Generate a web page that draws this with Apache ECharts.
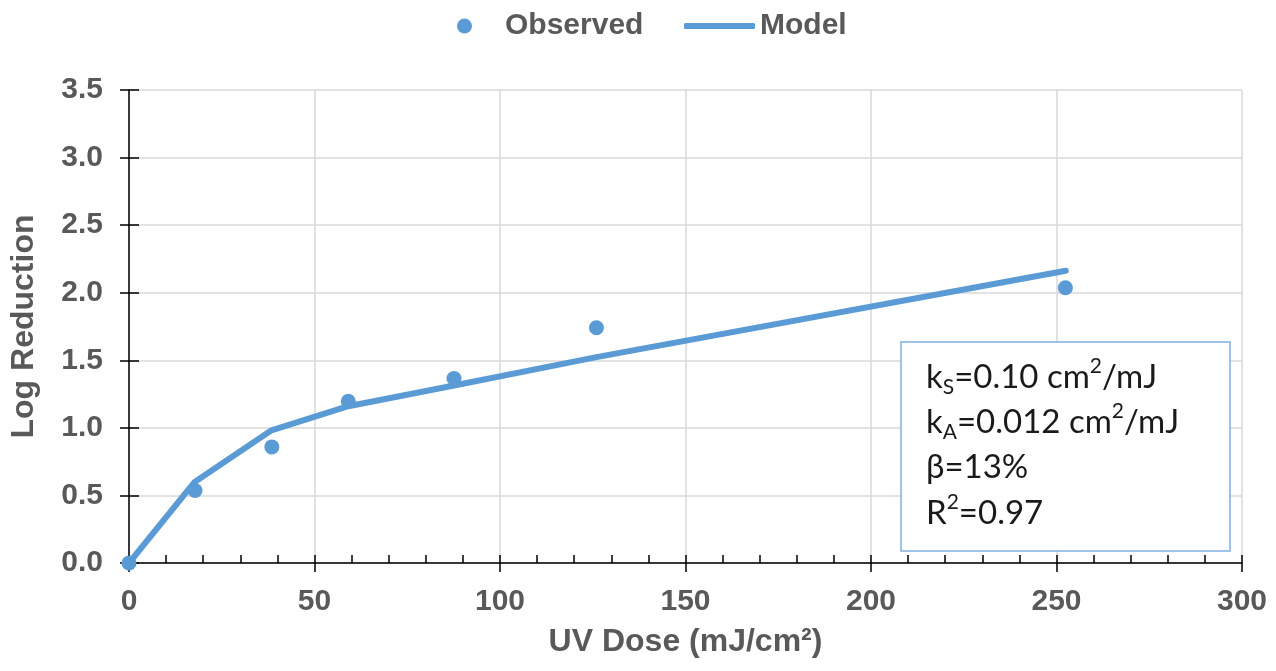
<!DOCTYPE html>
<html>
<head>
<meta charset="utf-8">
<script src="https://cdn.jsdelivr.net/npm/echarts@6/dist/echarts.min.js"></script>
<style>html,body{margin:0;padding:0;background:#fff}#c{width:1276px;height:671px}</style>
</head>
<body>
<div id="c"></div>
<script>
// ---- data ----
const observedDose = [0, 17.8, 38.5, 59.1, 87.6, 126.0, 252.4];
const observedLR   = [0.0, 0.536, 0.859, 1.197, 1.365, 1.741, 2.037];
const modelDose    = [0, 17.6, 38.4, 59.1, 87.6, 126.0, 252.5];
const modelLR      = [0.0, 0.597, 0.982, 1.160, 1.313, 1.523, 2.163];
const seriesNames  = ['Observed', 'Model'];
const xTitle = 'UV Dose (mJ/cm²)';
const yTitle = 'Log Reduction';
const boxLines = [
  'k{sub|S}=0.10 cm{sup|2}/mJ',
  'k{sub|A}=0.012 cm{sup|2}/mJ',
  'β=13%',
  'R{sup|2}=0.97'
];

const blue = '#5b9bd5';
const gray = '#595959';
const font = 'Liberation Sans, Arial, sans-serif';

const chart = echarts.init(document.getElementById('c'));

const boxFont = 'Lato, "Open Sans", sans-serif';
const boxText = boxLines.map((t, i) => ({
  type: 'text',
  x: 926,
  y: 377 + i * 45.3,
  z: 101,
  style: {
    text: t,
    fontFamily: boxFont,
    fontSize: 33,
    fill: '#1a1a1a',
    verticalAlign: 'middle',
    align: 'left',
    rich: {
      sub: { fontFamily: boxFont, fontSize: 21, fill: '#1a1a1a', padding: [20, 0, 0, 0] },
      sup: { fontFamily: boxFont, fontSize: 21, fill: '#1a1a1a', padding: [0, 0, 22, 0] }
    }
  }
}));

const legendText = { fontSize: 30, fontWeight: 'bold', color: gray, fontFamily: font };

const option = {
  backgroundColor: '#fff',
  animation: false,
  textStyle: { fontFamily: font },
  legend: [
    {
      top: 11, left: 457, padding: 0,
      itemWidth: 71, itemHeight: 15,
      textStyle: legendText,
      data: [{ name: seriesNames[0], icon: 'circle' }]
    },
    {
      top: 11, left: 684, padding: 0,
      itemWidth: 71, itemHeight: 6,
      textStyle: legendText,
      data: [{ name: seriesNames[1], icon: 'roundRect' }]
    }
  ],
  grid: { left: 128, right: 34, top: 90, bottom: 108, containLabel: false },
  xAxis: [
    {
      type: 'value', min: 0, max: 300, interval: 50, position: 'bottom',
      name: xTitle, nameLocation: 'middle', nameGap: 63,
      nameTextStyle: { fontSize: 32, fontWeight: 'bold', color: gray, fontFamily: font },
      axisLine: { show: true, onZero: false, lineStyle: { color: '#000', width: 1.5 } },
      axisTick: { show: true, length: 9, lineStyle: { color: '#000', width: 1.5 } },
      axisLabel: { fontSize: 30, fontWeight: 'bold', color: gray, margin: 24, fontFamily: font },
      splitLine: { show: true, lineStyle: { color: '#d9d9d9', width: 1.5 } }
    },
    {
      type: 'value', min: 0, max: 300, interval: 50, position: 'bottom',
      axisLine: { show: false, onZero: false },
      axisTick: { show: true, inside: true, length: 8, lineStyle: { color: '#000', width: 1.5 } },
      minorTick: { show: true, splitNumber: 5, length: 8, lineStyle: { color: '#000', width: 1.5 } },
      axisLabel: { show: false },
      splitLine: { show: false }
    }
  ],
  yAxis: [
    {
      type: 'value', min: 0, max: 3.5, interval: 0.5, position: 'left',
      name: yTitle, nameLocation: 'middle', nameGap: 89,
      nameTextStyle: { fontSize: 32, fontWeight: 'bold', color: gray, fontFamily: font },
      axisLine: { show: true, onZero: false, lineStyle: { color: '#000', width: 1.5 } },
      axisTick: { show: true, length: 9, lineStyle: { color: '#000', width: 1.5 } },
      axisLabel: { fontSize: 30, fontWeight: 'bold', color: gray, margin: 26, fontFamily: font,
        formatter: v => v.toFixed(1) },
      splitLine: { show: true, lineStyle: { color: '#d9d9d9', width: 1.5 } }
    },
    {
      type: 'value', min: 0, max: 3.5, interval: 0.5, position: 'left',
      axisLine: { show: false, onZero: false },
      axisTick: { show: true, inside: true, length: 10, lineStyle: { color: '#000', width: 1.5 } },
      axisLabel: { show: false },
      splitLine: { show: false }
    }
  ],
  series: [
    {
      name: seriesNames[0], type: 'scatter', xAxisIndex: 0, yAxisIndex: 0,
      symbol: 'circle', symbolSize: 15,
      itemStyle: { color: blue, opacity: 1 },
      data: observedDose.map((d, i) => [d, observedLR[i]]),
      z: 3
    },
    {
      name: seriesNames[1], type: 'line', xAxisIndex: 0, yAxisIndex: 0,
      symbol: 'none', showSymbol: false,
      lineStyle: { color: blue, width: 6, cap: 'round', join: 'round' },
      itemStyle: { color: blue },
      data: modelDose.map((d, i) => [d, modelLR[i]]),
      z: 2
    }
  ],
  graphic: [
    {
      type: 'rect', z: 100,
      shape: { x: 901, y: 342, width: 329, height: 209 },
      style: { fill: '#fff', stroke: '#7fb0de', lineWidth: 1.5 }
    }
  ].concat(boxText)
};
chart.setOption(option);
</script>
</body>
</html>
